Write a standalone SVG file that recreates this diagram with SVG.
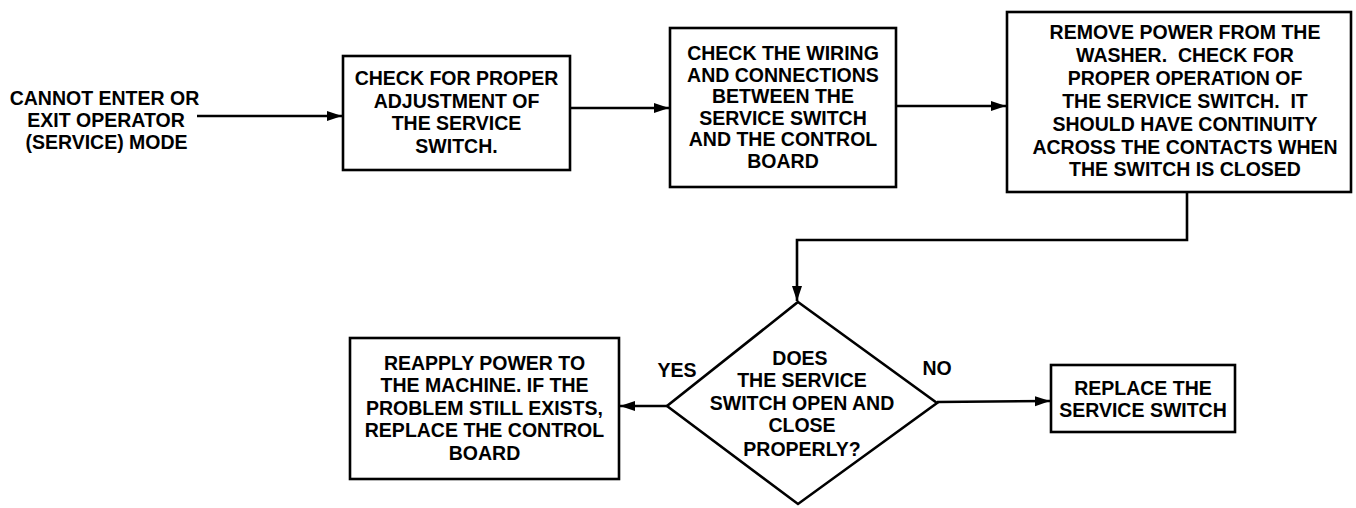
<svg xmlns="http://www.w3.org/2000/svg" width="1356" height="508" viewBox="0 0 1356 508">
<style>
  .box { fill: #fff; stroke: #000; stroke-width: 2.6; }
  .t { font-family: "Liberation Sans", Arial, sans-serif; font-weight: bold; font-size: 19.5px; fill: #000; text-anchor: middle; }
  .lbl { font-family: "Liberation Sans", Arial, sans-serif; font-weight: bold; font-size: 19.5px; fill: #000; text-anchor: middle; }
  .c { fill: none; stroke: #000; stroke-width: 2.6; }
</style>
<defs>
  <marker id="ah" markerUnits="userSpaceOnUse" markerWidth="16" markerHeight="12" refX="15" refY="5" orient="auto">
    <path d="M0,0 L15,5 L0,10 Z" fill="#000"/>
  </marker>
</defs>
<rect width="1356" height="508" fill="#fff"/>

<g id="connectors">
  <line class="c" x1="197" y1="116" x2="342" y2="116" marker-end="url(#ah)"/>
  <line class="c" x1="570" y1="108" x2="669" y2="108" marker-end="url(#ah)"/>
  <line class="c" x1="896" y1="106" x2="1006" y2="106" marker-end="url(#ah)"/>
  <polyline class="c" points="1187,192 1187,240 797,240 797,301" marker-end="url(#ah)"/>
  <line class="c" x1="667" y1="406" x2="620" y2="406" marker-end="url(#ah)"/>
  <line class="c" x1="937" y1="402" x2="1050" y2="401" marker-end="url(#ah)"/>
</g>

<g id="start">
  <text class="t" x="104.5" y="105">CANNOT ENTER OR</text>
  <text class="t" x="106" y="127">EXIT OPERATOR</text>
  <text class="t" x="106.5" y="149">(SERVICE) MODE</text>
</g>

<g id="box1">
  <rect class="box" x="343" y="56" width="227" height="114"/>
  <text class="t" x="456.5" y="85">CHECK FOR PROPER</text>
  <text class="t" x="456.5" y="107.5">ADJUSTMENT OF</text>
  <text class="t" x="456.5" y="130">THE SERVICE</text>
  <text class="t" x="456.5" y="153">SWITCH.</text>
</g>

<g id="box2">
  <rect class="box" x="670" y="28" width="226" height="159"/>
  <text class="t" x="783" y="60">CHECK THE WIRING</text>
  <text class="t" x="783" y="81.5">AND CONNECTIONS</text>
  <text class="t" x="783" y="103">BETWEEN THE</text>
  <text class="t" x="783" y="124.5">SERVICE SWITCH</text>
  <text class="t" x="783" y="146">AND THE CONTROL</text>
  <text class="t" x="783" y="167.5">BOARD</text>
</g>

<g id="box3">
  <rect class="box" x="1007" y="12" width="344" height="180"/>
  <text class="t" x="1185" y="39">REMOVE POWER FROM THE</text>
  <text class="t" x="1185" y="62" xml:space="preserve">WASHER.  CHECK FOR</text>
  <text class="t" x="1185" y="85">PROPER OPERATION OF</text>
  <text class="t" x="1185" y="108" xml:space="preserve">THE SERVICE SWITCH.  IT</text>
  <text class="t" x="1185" y="131">SHOULD HAVE CONTINUITY</text>
  <text class="t" x="1185" y="154">ACROSS THE CONTACTS WHEN</text>
  <text class="t" x="1185" y="176">THE SWITCH IS CLOSED</text>
</g>

<g id="decision">
  <polygon class="box" points="798,302 937,403 798,504 667,406"/>
  <text class="t" x="800" y="365">DOES</text>
  <text class="t" x="802" y="387">THE SERVICE</text>
  <text class="t" x="802" y="410">SWITCH OPEN AND</text>
  <text class="t" x="802" y="432">CLOSE</text>
  <text class="t" x="802" y="456">PROPERLY?</text>
</g>

<g id="box4">
  <rect class="box" x="350" y="338" width="269" height="141"/>
  <text class="t" x="484.5" y="370">REAPPLY POWER TO</text>
  <text class="t" x="484.5" y="392">THE MACHINE. IF THE</text>
  <text class="t" x="484.5" y="415">PROBLEM STILL EXISTS,</text>
  <text class="t" x="484.5" y="437">REPLACE THE CONTROL</text>
  <text class="t" x="484.5" y="460">BOARD</text>
</g>

<g id="box5">
  <rect class="box" x="1051" y="365" width="184" height="67"/>
  <text class="t" x="1143" y="395">REPLACE THE</text>
  <text class="t" x="1143" y="417">SERVICE SWITCH</text>
</g>

<g id="labels">
  <text class="lbl" x="677" y="377">YES</text>
  <text class="lbl" x="937" y="375">NO</text>
</g>
</svg>
